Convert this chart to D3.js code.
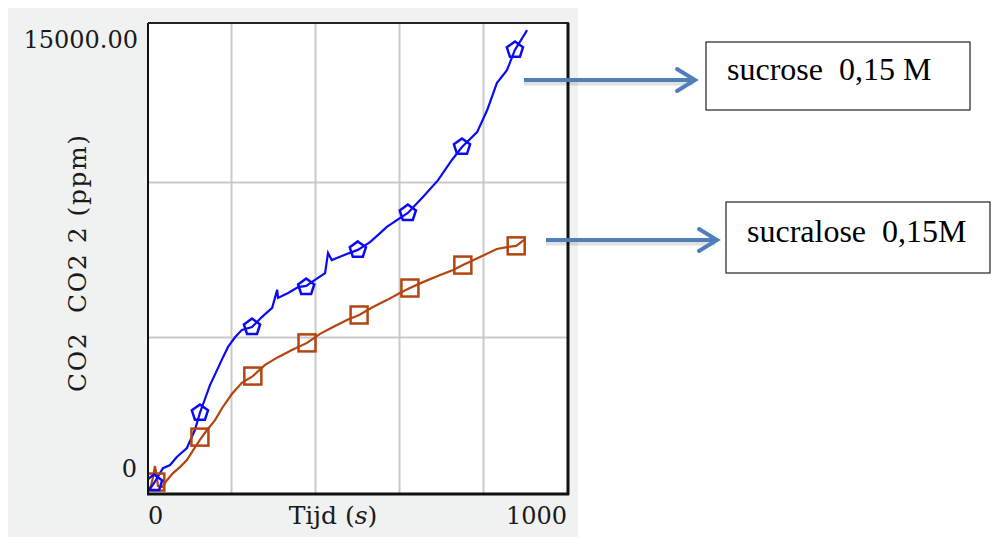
<!DOCTYPE html>
<html>
<head>
<meta charset="utf-8">
<script src="https://cdn.jsdelivr.net/npm/d3@7"></script>
<style>
  body { margin: 0; background: #fff; }
  svg { display: block; }
</style>
</head>
<body>
<div id="chart"></div>
<script>
const w = 994;
const h = 537;

// sucrose 0,15 M (blue), time in s, CO2 in ppm
const sucroseT = [5, 17, 24, 38, 55, 71, 95, 114, 126, 138, 150, 167, 181, 193, 210, 226, 250, 274, 298, 310, 312, 336, 360, 379, 400, 424, 431, 440, 471, 502, 531, 555, 571, 595, 621, 657, 693, 726, 750, 786, 810, 833, 857, 876, 905];
const sucroseV = [65, 290, 450, 770, 870, 1130, 1420, 2000, 2550, 3000, 3450, 3940, 4350, 4680, 5000, 5230, 5320, 5650, 5940, 6520, 6260, 6420, 6610, 6650, 6840, 7060, 7710, 7480, 7650, 7810, 8060, 8350, 8550, 8770, 9000, 9520, 10060, 10710, 11130, 11610, 12320, 13190, 13610, 14260, 14900];
const sucroseMarkT = [17, 126, 250, 379, 502, 621, 750, 876];
const sucroseMarkV = [290, 2550, 5320, 6610, 7810, 9000, 11130, 14260];

// sucralose 0,15M (brown)
const sucraloseT = [7, 14, 19, 24, 26, 36, 48, 62, 79, 95, 110, 126, 143, 162, 179, 202, 226, 252, 281, 312, 345, 381, 412, 443, 476, 505, 538, 571, 602, 626, 657, 698, 729, 752, 793, 833, 857, 879, 898];
const sucraloseV = [65, 450, 840, 450, 190, 160, 390, 610, 810, 1030, 1350, 1680, 2000, 2320, 2710, 3160, 3520, 3740, 4100, 4350, 4580, 4810, 5100, 5320, 5550, 5710, 5970, 6190, 6420, 6580, 6770, 7000, 7160, 7320, 7580, 7840, 7900, 7940, 8130];
const sucraloseMarkT = [21, 126, 252, 381, 505, 626, 752, 879];
const sucraloseMarkV = [320, 1770, 3740, 4810, 5710, 6580, 7320, 7940];

const xGrid = [200, 400, 600, 800];
const yGrid = [5000, 10000];
const yLabels = ['15000.00', '0'];
const xLabels = ['0', '1000'];
const xTitle = ['Tijd (', 's', ')'];
const yTitle = 'CO2  CO2 2 (ppm)';
const notes = ['sucrose  0,15 M', 'sucralose  0,15M'];

const blue = '#0a0af8';
const brown = '#b3450f';
const arrowCol = '#4f7fba';

const plot = { l: 148, t: 23, r: 568, b: 494 };

const svg = d3.select('#chart')
  .append('svg')
  .attr('width', w)
  .attr('height', h);

// grey panel
svg.append('rect')
  .attr('x', 8).attr('y', 8)
  .attr('width', 570).attr('height', 529)
  .attr('fill', '#f0f1f1');

svg.append('rect')
  .attr('x', plot.l).attr('y', plot.t)
  .attr('width', plot.r - plot.l).attr('height', plot.b - plot.t)
  .attr('fill', '#fff');

let xScale = d3.scaleLinear()
  .domain([0, 1000])
  .range([147, 567]);

let yScale = d3.scaleLinear()
  .domain([0, 15000])
  .range([492, 27]);

// grid lines through axes
let xAxis = d3.axisBottom(xScale)
  .tickValues(xGrid)
  .tickSize(-(plot.b - plot.t))
  .tickFormat('');

let yAxis = d3.axisLeft(yScale)
  .tickValues(yGrid)
  .tickSize(-(plot.r - plot.l))
  .tickFormat('');

svg.append('g')
  .attr('class', 'grid')
  .attr('transform', 'translate(0,' + plot.b + ')')
  .call(xAxis);

svg.append('g')
  .attr('class', 'grid')
  .attr('transform', 'translate(' + plot.l + ',0)')
  .call(yAxis);

svg.selectAll('.grid .domain').remove();
svg.selectAll('.grid line')
  .attr('stroke', '#c9c9c9')
  .attr('stroke-width', 2);

svg.append('clipPath')
  .attr('id', 'clip')
  .append('rect')
  .attr('x', plot.l).attr('y', plot.t)
  .attr('width', plot.r - plot.l).attr('height', plot.b - plot.t);

const layer = svg.append('g').attr('clip-path', 'url(#clip)');

let line = d3.line()
  .x(function(d) { return xScale(d[0]); })
  .y(function(d) { return yScale(d[1]); });

const sucrose = d3.zip(sucroseT, sucroseV);
const sucralose = d3.zip(sucraloseT, sucraloseV);

layer.append('path')
  .datum(sucralose)
  .attr('d', line)
  .attr('fill', 'none')
  .attr('stroke', brown)
  .attr('stroke-width', 2.2);

layer.append('path')
  .datum(sucrose)
  .attr('d', line)
  .attr('fill', 'none')
  .attr('stroke', blue)
  .attr('stroke-width', 2.2);

// square markers
layer.selectAll('.sq')
  .data(d3.zip(sucraloseMarkT, sucraloseMarkV))
  .enter()
  .append('rect')
  .attr('x', function(d) { return xScale(d[0]) - 8.5; })
  .attr('y', function(d) { return yScale(d[1]) - 8.5; })
  .attr('width', 17)
  .attr('height', 17)
  .attr('fill', 'none')
  .attr('stroke', brown)
  .attr('stroke-width', 2.5);

// pentagon markers
function pentagon(cx, cy, r) {
  let pts = [];
  for (let i = 0; i < 5; i++) {
    let a = -Math.PI / 2 + i * 2 * Math.PI / 5;
    pts.push([cx + r * Math.cos(a), cy + r * Math.sin(a)]);
  }
  return 'M' + pts.join('L') + 'Z';
}

layer.selectAll('.pent')
  .data(d3.zip(sucroseMarkT, sucroseMarkV))
  .enter()
  .append('path')
  .attr('d', function(d) { return pentagon(xScale(d[0]), yScale(d[1]), 8.5); })
  .attr('fill', 'none')
  .attr('stroke', blue)
  .attr('stroke-width', 2.5);

// frame
svg.append('line').attr('x1', plot.l).attr('x2', plot.l).attr('y1', plot.t).attr('y2', plot.b)
  .attr('stroke', '#111').attr('stroke-width', 2);
svg.append('line').attr('x1', plot.l).attr('x2', plot.r + 1).attr('y1', plot.t).attr('y2', plot.t)
  .attr('stroke', '#222').attr('stroke-width', 2);
svg.append('line').attr('x1', plot.r).attr('x2', plot.r).attr('y1', plot.t).attr('y2', plot.b + 1)
  .attr('stroke', '#111').attr('stroke-width', 3);
svg.append('line').attr('x1', plot.l - 1).attr('x2', plot.r + 1).attr('y1', plot.b).attr('y2', plot.b)
  .attr('stroke', '#111').attr('stroke-width', 3);

const axisFont = "'DejaVu Serif'";

function label(txt, x, y, anchor, size) {
  return svg.append('text')
    .text(txt)
    .attr('x', x).attr('y', y)
    .attr('text-anchor', anchor)
    .attr('font-family', axisFont)
    .attr('font-size', size + 'px')
    .attr('fill', '#1a1a1a');
}

label(yLabels[0], 138, yScale(15000) + 21, 'end', 24);
label(yLabels[1], 137, yScale(0) - 15, 'end', 24);
label(xLabels[0], xScale(0) + 1, 524, 'start', 24);
label(xLabels[1], xScale(1000), 524, 'end', 24);

const xt = svg.append('text')
  .attr('x', 333).attr('y', 524)
  .attr('text-anchor', 'middle')
  .attr('font-family', axisFont)
  .attr('font-size', '25px')
  .attr('fill', '#1a1a1a');
xt.selectAll('tspan')
  .data(xTitle)
  .enter()
  .append('tspan')
  .text(function(d) { return d; })
  .attr('font-style', function(d, i) { return i === 1 ? 'italic' : 'normal'; });

svg.append('text')
  .text(yTitle)
  .attr('xml:space', 'preserve')
  .style('white-space', 'pre')
  .attr('transform', 'translate(86,392) rotate(-90)')
  .attr('textLength', 257)
  .attr('lengthAdjust', 'spacing')
  .attr('font-family', axisFont)
  .attr('font-size', '25px')
  .attr('fill', '#1a1a1a');

// annotation boxes
const boxes = [
  { x: 706, y: 42, w: 264, h: 68, tx: 727, ty: 80 },
  { x: 726, y: 202, w: 264, h: 71, tx: 747, ty: 242 }
];

svg.selectAll('.note')
  .data(boxes)
  .enter()
  .append('rect')
  .attr('x', function(d) { return d.x; })
  .attr('y', function(d) { return d.y; })
  .attr('width', function(d) { return d.w; })
  .attr('height', function(d) { return d.h; })
  .attr('fill', '#fff')
  .attr('stroke', '#222')
  .attr('stroke-width', 1.2);

svg.selectAll('.notetext')
  .data(boxes)
  .enter()
  .append('text')
  .text(function(d, i) { return notes[i]; })
  .attr('x', function(d) { return d.tx; })
  .attr('y', function(d) { return d.ty; })
  .attr('xml:space', 'preserve')
  .style('white-space', 'pre')
  .attr('font-family', "'Liberation Serif', 'Times New Roman', serif")
  .attr('font-size', '32px')
  .attr('fill', '#000');

// arrows
const arrows = [
  { x1: 524, x2: 695, y: 80 },
  { x1: 546, x2: 717, y: 240 }
];

arrows.forEach(function(a) {
  svg.append('path')
    .attr('d', 'M' + a.x1 + ',' + (a.y + 3) + 'H' + (a.x2 - 2))
    .attr('stroke', '#000').attr('stroke-opacity', 0.12)
    .attr('stroke-width', 5).attr('fill', 'none');
  svg.append('path')
    .attr('d', 'M' + a.x1 + ',' + a.y + 'H' + (a.x2 - 2))
    .attr('stroke', arrowCol).attr('stroke-width', 4).attr('fill', 'none');
  svg.append('path')
    .attr('d', 'M' + (a.x2 - 18) + ',' + (a.y - 11) + 'L' + a.x2 + ',' + a.y + 'L' + (a.x2 - 18) + ',' + (a.y + 11))
    .attr('stroke', arrowCol).attr('stroke-width', 4)
    .attr('stroke-linejoin', 'miter').attr('stroke-linecap', 'round')
    .attr('fill', 'none');
});
</script>
</body>
</html>
